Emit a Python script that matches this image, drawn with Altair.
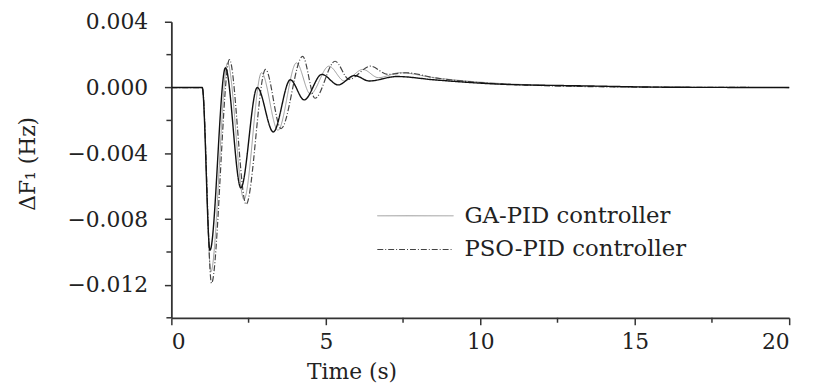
import altair as alt
import pandas as pd

# Proposed controller (thick solid, not in legend)
t_prop = [0, 1.0, 1.25, 1.75, 2.25, 2.78, 3.3, 3.85, 4.3, 4.87, 5.4, 5.93, 6.4, 7.3, 8.5, 10.7, 13.4, 16, 20]
v_prop = [0, 0, -0.0099, 0.0012, -0.0061, 0.0000, -0.0027, 0.00047, -0.00075, 0.0008, 0.00016, 0.00073,
          0.0004, 0.00067, 0.00047, 0.0002, 0.0001, 0.00002, 0]

# GA-PID controller (thin gray solid)
t_ga = [0, 1.0, 1.28, 1.82, 2.35, 2.92, 3.45, 4.05, 4.5, 5.1, 5.6, 6.2, 6.7, 7.4, 8.5, 10.2, 12.5, 15.5, 20]
v_ga = [0, 0, -0.0112, 0.0015, -0.0068, 0.0009, -0.0026, 0.0015, -0.0004, 0.0013, 0.0004, 0.0011,
        0.0006, 0.0009, 0.0006, 0.0003, 0.00012, 0.00003, 0]

# PSO-PID controller (dash-dot)
t_pso = [0, 1.0, 1.3, 1.88, 2.42, 3.05, 3.55, 4.25, 4.65, 5.3, 5.75, 6.45, 7.0, 7.6, 8.5, 10, 12, 15, 20]
v_pso = [0, 0, -0.0119, 0.0017, -0.0071, 0.0011, -0.0025, 0.0019, -0.00065, 0.0016, 0.0005, 0.0013,
         0.0008, 0.0009, 0.0006, 0.0003, 0.00012, 0.00003, 0]

series_names = ["GA-PID controller", "PSO-PID controller", "Proposed"]
y_ticks = [0.004, 0.0, -0.004, -0.008, -0.012]
y_minor = [0.002, -0.002, -0.006, -0.010, -0.014]
x_ticks = [0, 5, 10, 15, 20]
x_minor = [2.5, 7.5, 12.5, 17.5]

rows = []
for name, ts, vs in zip(series_names, [t_ga, t_pso, t_prop], [v_ga, v_pso, v_prop]):
    for i, (t, v) in enumerate(zip(ts, vs)):
        rows.append({"series": name, "t": t, "v": v, "i": i})
df = pd.DataFrame(rows)

FONT = "DejaVu Serif"
FS = 22
INK = "#333"
H = 299

legend = alt.Legend(
    title=None, orient="none", legendX=207, legendY=185,
    values=["GA-PID controller", "PSO-PID controller"],
    symbolType="stroke", symbolSize=77 * 77, clipHeight=22, rowPadding=11,
    labelFont=FONT, labelFontSize=23, labelColor="#222", labelOffset=10, labelLimit=0,
)

color_scale = alt.Scale(domain=series_names, range=["#9a9a9a", "#444444", "#111111"])
dash_scale = alt.Scale(domain=series_names, range=[[1, 0], [6, 2, 1, 2], [1, 0]])
width_scale = alt.Scale(domain=series_names, range=[1.0, 1.4, 2.4])

x_scale = alt.Scale(domain=[0, 20], nice=False)
y_scale = alt.Scale(domain=[-0.014, 0.004], nice=False, zero=False)

lines = alt.Chart(df).mark_line(interpolate="monotone").encode(
    x=alt.X("t:Q", scale=x_scale,
            axis=alt.Axis(values=x_ticks, title="Time (s)", format="d", grid=False,
                          tickSize=7, labelPadding=7, labelFont=FONT, labelFontSize=FS,
                          titleFont=FONT, titleFontSize=FS, titleFontWeight="normal",
                          titleX=182, titleY=44, titleAlign="center",
                          domainColor=INK, tickColor=INK, labelColor="#222", titleColor="#222",
                          domainWidth=1.8, tickWidth=1.5)),
    y=alt.Y("v:Q", scale=y_scale,
            axis=alt.Axis(values=y_ticks, title="ΔF₁ (Hz)", format=".3f", grid=False,
                          tickSize=7, labelPadding=17, labelFont=FONT, labelFontSize=FS,
                          titleFont=FONT, titleFontSize=FS, titleFontWeight="normal",
                          titleX=-145, titleY=143, titleAlign="center", titleAngle=-90,
                          titleBaseline="middle",
                          domainColor=INK, tickColor=INK, labelColor="#222", titleColor="#222",
                          domainWidth=1.8, tickWidth=1.5)),
    color=alt.Color("series:N", scale=color_scale, legend=legend),
    strokeDash=alt.StrokeDash("series:N", scale=dash_scale, legend=legend),
    strokeWidth=alt.StrokeWidth("series:N", scale=width_scale, legend=legend),
    order="i:Q",
)

xm = alt.Chart(pd.DataFrame({"t": x_minor})).mark_rule(color=INK, strokeWidth=1.5, clip=False).encode(
    x=alt.X("t:Q", scale=x_scale), y=alt.value(H), y2=alt.value(H + 5),
)
ym = alt.Chart(pd.DataFrame({"v": y_minor})).mark_rule(color=INK, strokeWidth=1.5, clip=False).encode(
    y=alt.Y("v:Q", scale=y_scale), x=alt.value(-5), x2=alt.value(0),
)

chart = alt.layer(lines, xm, ym).properties(
    width=624, height=H,
    autosize=alt.AutoSizeParams(type="none"),
    padding={"left": 165, "top": 12, "right": 18, "bottom": 66},
    background="white",
).configure_view(stroke=None)

chart.save("out.html", embed_options={"renderer": "svg", "actions": False})
